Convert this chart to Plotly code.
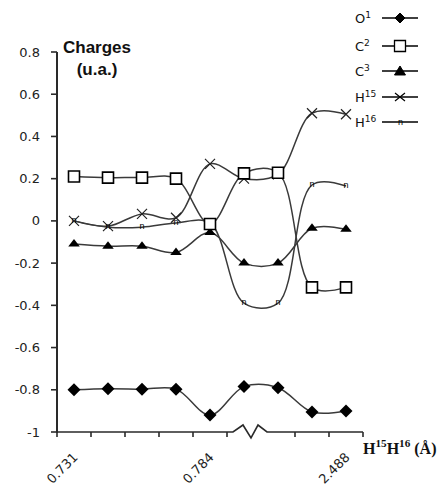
import plotly.graph_objects as go

# ---------------- data ----------------
categories = list(range(9))
tick_positions = [0, 4, 8]
tick_labels = ["0.731", "0.784", "2.488"]
O1 = [-0.80, -0.795, -0.797, -0.797, -0.92, -0.785, -0.79, -0.905, -0.90]
C2 = [0.21, 0.205, 0.205, 0.20, -0.015, 0.225, 0.228, -0.315, -0.315]
C3 = [-0.11, -0.12, -0.12, -0.15, -0.055, -0.20, -0.20, -0.035, -0.04]
H15 = [0.0, -0.025, 0.033, 0.015, 0.27, 0.20, 0.22, 0.51, 0.505]
H16 = [0.0, -0.03, -0.03, -0.01, -0.01, -0.39, -0.39, 0.17, 0.165]
y_ticks = [-1, -0.8, -0.6, -0.4, -0.2, 0, 0.2, 0.4, 0.6, 0.8]
y_labels = ["-1", "-0.8", "-0.6", "-0.4", "-0.2", "0", "0.2", "0.4", "0.6", "0.8"]
legend_names = ["O<sup>1</sup>", "C<sup>2</sup>", "C<sup>3</sup>", "H<sup>15</sup>", "H<sup>16</sup>"]

# ---------------- layout geometry (pixels) ----------------
W, H = 439, 486
L, R, T, B = 57, 363, 52, 432
LINE = "#2a2a2a"
FONT = "Liberation Sans"
TICKFONT = "DejaVu Sans"
X_RANGE = [-0.5, 8.5]
Y_RANGE = [-1, 0.8]


def P(x, y):  # pixel -> paper coordinate pair for SVG paths
    return f"{x / W:.5f},{1 - y / H:.5f}"


def rect(x0, y0, x1, y1, color=LINE):  # filled rectangle given in pixels
    return dict(type="rect", xref="paper", yref="paper",
                x0=x0 / W, x1=x1 / W, y0=1 - y1 / H, y1=1 - y0 / H,
                fillcolor=color, line=dict(width=0), layer="above")


def xpix(v):  # x data value -> pixel
    return L + (v - X_RANGE[0]) / (X_RANGE[1] - X_RANGE[0]) * (R - L)


def ypix(v):  # y data value -> pixel
    return B - (v - Y_RANGE[0]) / (Y_RANGE[1] - Y_RANGE[0]) * (B - T)


fig = go.Figure()

line_style = dict(color="#3a3a3a", width=1.5, shape="spline", smoothing=1)

fig.add_trace(go.Scatter(x=categories, y=O1, mode="lines+markers", line=line_style,
                         marker=dict(symbol="diamond", size=10, color="black")))
fig.add_trace(go.Scatter(x=categories, y=C3, mode="lines+markers", line=line_style,
                         marker=dict(symbol="triangle-up", size=10, color="black")))
fig.add_trace(go.Scatter(x=categories, y=H15, mode="lines+markers", line=line_style,
                         marker=dict(symbol="x-thin", size=10, color="black",
                                     line=dict(color="#222", width=1.2))))
fig.add_trace(go.Scatter(x=categories, y=H16, mode="lines+text", line=line_style,
                         text=["n"] * len(H16), textposition="middle center",
                         textfont=dict(family=FONT, size=9, color="black")))
fig.add_trace(go.Scatter(x=categories, y=C2, mode="lines+markers", line=line_style,
                         marker=dict(symbol="square", size=11, color="white",
                                     line=dict(color="black", width=1.6))))

shapes = []
annotations = []

# ---------------- axes: y axis bar, x axis with break, tick marks ----------------
shapes.append(rect(L - 1, T, L + 1, B + 1))
shapes.append(dict(type="path", xref="paper", yref="paper",
                   path=(f"M{P(L, B)} L{P(233, B)} L{P(243, 425)} L{P(251, 438)} "
                         f"L{P(258, 425)} L{P(267, B)} L{P(R, B)}"),
                   line=dict(color=LINE, width=1.6), layer="above"))
boundary_ticks = [v - 0.5 for v in range(10) if v != 6]
for bt in boundary_ticks:
    xp = xpix(bt)
    shapes.append(rect(xp - 0.8, B, xp + 0.8, B + 5))
for yt in y_ticks:
    yp = ypix(yt)
    shapes.append(rect(L - 6, yp - 0.8, L, yp + 0.8))

# ---------------- custom legend (text left, sample right) ----------------
leg_y = [18, 46, 71, 97, 122]
leg_x0, leg_x1, c = 382, 418, 400
for name, yy in zip(legend_names, leg_y):
    shapes.append(dict(type="path", xref="paper", yref="paper",
                       path=f"M{P(leg_x0, yy)} L{P(leg_x1, yy)}",
                       line=dict(color="black", width=1.3)))
    annotations.append(dict(x=353 / W, y=1 - yy / H, xref="paper", yref="paper", text=name,
                            showarrow=False, xanchor="left", yanchor="middle",
                            font=dict(family=TICKFONT, size=13, color="#111")))

y0 = leg_y[0]
shapes.append(dict(type="path", xref="paper", yref="paper",
                   path=f"M{P(c, y0 - 5)} L{P(c + 5, y0)} L{P(c, y0 + 5)} L{P(c - 5, y0)} Z",
                   fillcolor="black", line=dict(color="black", width=1)))
y1 = leg_y[1]
shapes.append(dict(type="path", xref="paper", yref="paper",
                   path=(f"M{P(c - 5.5, y1 - 5.5)} L{P(c + 5.5, y1 - 5.5)} "
                         f"L{P(c + 5.5, y1 + 5.5)} L{P(c - 5.5, y1 + 5.5)} Z"),
                   fillcolor="white", line=dict(color="black", width=1.3)))
y2 = leg_y[2]
shapes.append(dict(type="path", xref="paper", yref="paper",
                   path=f"M{P(c, y2 - 5)} L{P(c + 5.5, y2 + 4)} L{P(c - 5.5, y2 + 4)} Z",
                   fillcolor="black", line=dict(color="black", width=1)))
y3 = leg_y[3]
shapes.append(dict(type="path", xref="paper", yref="paper",
                   path=(f"M{P(c - 5, y3 - 4)} L{P(c + 5, y3 + 4)} "
                         f"M{P(c - 5, y3 + 4)} L{P(c + 5, y3 - 4)}"),
                   line=dict(color="black", width=1.2)))
annotations.append(dict(x=c / W, y=1 - leg_y[4] / H, xref="paper", yref="paper", text="n",
                        showarrow=False, xanchor="center", yanchor="middle",
                        font=dict(family=FONT, size=9, color="black")))

annotations.append(dict(x=97 / W, y=1 - 58 / H, xref="paper", yref="paper",
                        text="<b>Charges</b><br><b>(u.a.)</b>", showarrow=False,
                        xanchor="center", yanchor="middle", align="center",
                        font=dict(family=FONT, size=17, color="#111")))
annotations.append(dict(x=361 / W, y=1 - 447 / H, xref="paper", yref="paper",
                        text="<b>H<sup>15</sup>H<sup>16</sup> (Å)</b>", showarrow=False,
                        xanchor="left", yanchor="middle",
                        font=dict(family="Liberation Serif", size=16, color="#111")))

fig.update_layout(
    template="none",
    width=W, height=H, autosize=False,
    margin=dict(l=0, r=0, t=0, b=0, pad=0),
    paper_bgcolor="white", plot_bgcolor="white",
    showlegend=False,
    annotations=annotations, shapes=shapes,
    xaxis=dict(domain=[L / W, R / W], range=X_RANGE, showline=False,
               showgrid=False, zeroline=False, automargin=False,
               tickmode="array", tickvals=tick_positions, ticktext=tick_labels,
               tickangle=-45, ticks="", ticklabelstandoff=14,
               tickfont=dict(family=TICKFONT, size=13, color="#222"),
               anchor="y"),
    yaxis=dict(domain=[(H - B) / H, (H - T) / H], range=Y_RANGE, showline=False,
               showgrid=False, zeroline=False, automargin=False,
               tickmode="array", tickvals=y_ticks, ticktext=y_labels,
               ticks="", ticklabelstandoff=16,
               tickfont=dict(family=TICKFONT, size=13, color="#222"),
               anchor="x"),
)

fig.write_html("out.html")
